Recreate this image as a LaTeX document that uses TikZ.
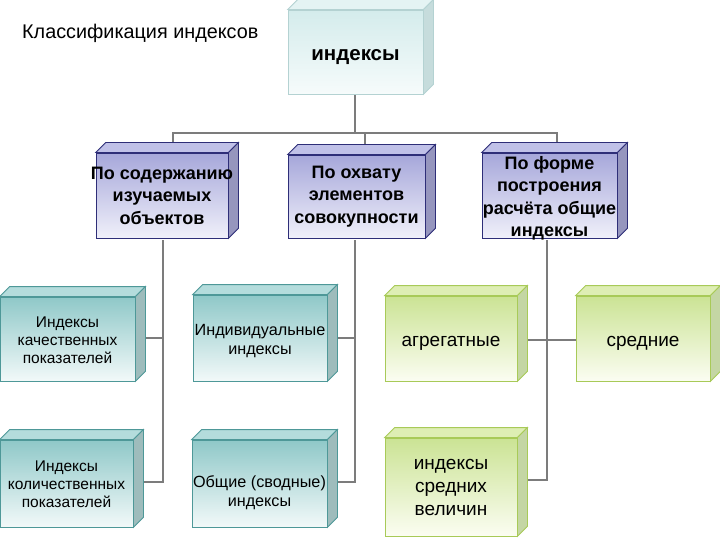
\documentclass[tikz,border=0pt]{standalone}
\usepackage{fontspec}
\setmainfont{Liberation Sans}
\definecolor{connc}{HTML}{7C7C7C}
\definecolor{topA}{HTML}{D4ECEC}\definecolor{topB}{HTML}{F6FBFB}\definecolor{topD}{HTML}{B4D2D2}
\definecolor{topT}{HTML}{E4F3F3}\definecolor{topS}{HTML}{C6DCDC}
\definecolor{lavA}{HTML}{A6A7DA}\definecolor{lavB}{HTML}{F0F0FA}\definecolor{lavD}{HTML}{2E2E78}
\definecolor{lavT}{HTML}{C0C1E8}\definecolor{lavS}{HTML}{9696BE}
\definecolor{tealA}{HTML}{8FC8C8}\definecolor{tealB}{HTML}{F2F9F9}\definecolor{tealD}{HTML}{4E9898}
\definecolor{tealT}{HTML}{B4DCDC}\definecolor{tealS}{HTML}{9EBCBC}
\definecolor{grnA}{HTML}{CBE394}\definecolor{grnB}{HTML}{FBFDF2}\definecolor{grnD}{HTML}{A8CA58}
\definecolor{grnT}{HTML}{DEEEB4}\definecolor{grnS}{HTML}{C4D6A4}
% #1 text shift (px down), #2 name, #3 style, #4 cx, #5 cy, #6 w, #7 h, #8 text
\newcommand\cubebox[8][0]{%
  \node[#3, minimum width=#6pt, minimum height=#7pt] (#2) at (#4,#5) {};
  \path[#3 top] (#2.north west) -- ++(10,-10) -- ([shift={(10,-10)}]#2.north east) -- (#2.north east) -- cycle;
  \path[#3 side] (#2.north east) -- ++(10,-10) -- ([shift={(10,-10)}]#2.south east) -- (#2.south east) -- cycle;
  \node[#3 text] (#2t) at ([yshift=-#1pt]#2.center) {#8};
}
\tikzset{
  conn/.style={draw=connc, line width=1.8pt},
  cbase/.style={rectangle, inner sep=0pt, line width=0.8pt},
  tbase/.style={inner sep=0pt, align=center},
  lvl1/.style={cbase, draw=topD, top color=topA, bottom color=topB},
  lvl1 text/.style={tbase, font=\bfseries\fontsize{20.5}{24}\selectfont},
  lvl1 top/.style={fill=topT, draw=topD, line width=0.8pt},
  lvl1 side/.style={fill=topS, draw=topD, line width=0.8pt},
  lvl2/.style={cbase, draw=lavD, top color=lavA, bottom color=lavB},
  lvl2 text/.style={tbase, font=\bfseries\fontsize{18}{22.5}\selectfont},
  lvl2 top/.style={fill=lavT, draw=lavD, line width=0.8pt},
  lvl2 side/.style={fill=lavS, draw=lavD, line width=0.8pt},
  tealbox/.style={cbase, draw=tealD, top color=tealA, bottom color=tealB},
  tealbox text/.style={tbase, font=\fontsize{15.5}{18}\selectfont},
  tealbox top/.style={fill=tealT, draw=tealD, line width=0.8pt},
  tealbox side/.style={fill=tealS, draw=tealD, line width=0.8pt},
  tealwide/.style={tealbox},
  tealwide text/.style={tbase, font=\fontsize{16.2}{19.5}\selectfont},
  tealwide top/.style={tealbox top},
  tealwide side/.style={tealbox side},
  grnbox/.style={cbase, draw=grnD, top color=grnA, bottom color=grnB},
  grnbox text/.style={tbase, font=\fontsize{19}{23}\selectfont},
  grnbox top/.style={fill=grnT, draw=grnD, line width=0.8pt},
  grnbox side/.style={fill=grnS, draw=grnD, line width=0.8pt},
}
\begin{document}
\begin{tikzpicture}[x=1pt, y=-1pt]
\useasboundingbox (0,0) rectangle (720,540);
\fill[white] (0,0) rectangle (720,540);
\node[anchor=base west, inner sep=0pt, font=\fontsize{19.8}{23}\selectfont] (title) at (22,39) {Классификация индексов};
% connectors (drawn first, boxes cover ends)
\coordinate (j0) at (355,133);
\coordinate (j1) at (173,148);
\coordinate (j2) at (365,150);
\coordinate (j3) at (557,148);
\coordinate (c1) at (163,240);
\coordinate (c2) at (355,240);
\coordinate (c3) at (547,240);
\draw[conn] (355,94) -- (j0);
\draw[conn] (j1) |- (j0) -| (j3);
\draw[conn] (j2) -- (j2 |- j0);
\draw[conn] (c1) -- (163,482) -- (120,482);
\draw[conn] (163,338) -- (120,338);
\draw[conn] (c2) -- (355,482) -- (310,482);
\draw[conn] (355,338) -- (310,338);
\draw[conn] (c3) -- (547,480) -- (500,480);
\draw[conn] (500,340) -- (590,340);
% level 1
\cubebox[5]{top}{lvl1}{355.5}{52}{135}{84}{индексы}
% level 2
\cubebox[0]{l21}{lvl2}{162}{195.5}{132}{85}{По содержанию\\изучаемых\\объектов}
\cubebox[0]{l22}{lvl2}{356.5}{196.5}{137}{83}{По охвату\\элементов\\совокупности}
\cubebox[3]{l23}{lvl2}{549.5}{195.5}{135}{85}{По форме\\построения\\расчёта общие\\индексы}
% level 3
\cubebox[1]{a}{tealbox}{67.5}{339}{135}{84}{Индексы\\качественных\\показателей}
\cubebox[3]{b}{tealwide}{260}{338}{134}{86}{Индивидуальные\\индексы}
\cubebox[5]{c}{grnbox}{451}{338.5}{132}{85}{агрегатные}
\cubebox[5]{d}{grnbox}{643}{338.5}{134}{85}{средние}
\cubebox[1]{e}{tealbox}{66.5}{483.5}{133}{87}{Индексы\\количественных\\показателей}
\cubebox[9]{f}{tealwide}{259.5}{483.5}{135}{87}{Общие (сводные)\\индексы}
\cubebox[0]{g}{grnbox}{451}{487}{132}{98}{индексы\\средних\\величин}
\end{tikzpicture}
\end{document}
